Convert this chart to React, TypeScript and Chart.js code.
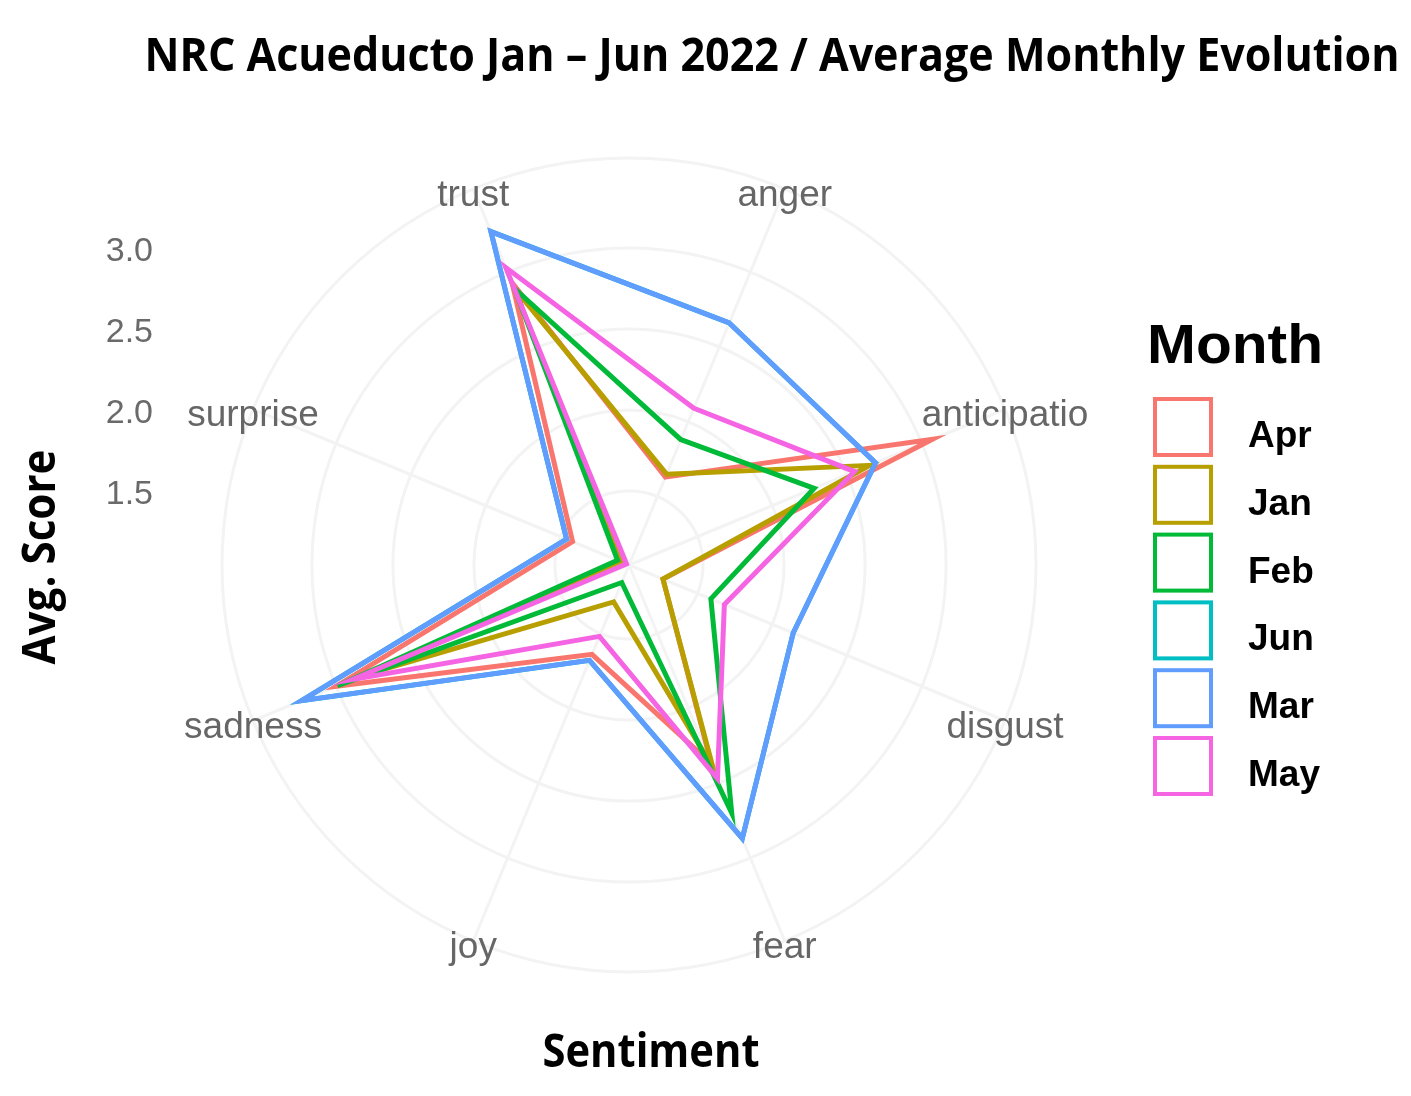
import React, { useEffect, useRef } from "react";
import { Chart, registerables } from "chart.js";

Chart.register(...registerables);

const sentiments = ["anger", "anticipatio", "disgust", "fear", "joy", "sadness", "surprise", "trust"];
const months = ["Apr", "Jan", "Feb", "Jun", "Mar", "May"];
const monthColors = ["#F8766D", "#B79F00", "#00BA38", "#00BFC4", "#619CFF", "#F564E3"];

const aprScores = [1.63, 3.07, 1.27, 2.37, 1.64, 3.0, 1.42, 2.93];
const janScores = [1.65, 2.65, 1.27, 2.4, 1.29, 2.83, 1.1, 2.89];
const febScores = [1.88, 2.28, 1.59, 2.7, 1.16, 2.99, 1.12, 2.89];
const junScores = [2.66, 2.69, 2.14, 2.87, 1.68, 3.23, 1.46, 3.27];
const marScores = [2.66, 2.69, 2.14, 2.87, 1.68, 3.23, 1.46, 3.27];
const mayScores = [2.09, 2.55, 1.68, 2.47, 1.52, 2.89, 1.06, 3.03];

const tickValues = [1.5, 2.0, 2.5, 3.0];
const tickLabels = ["1.5", "2.0", "2.5", "3.0"];
const radialMin = 1.043;
const radialMax = 3.555;

const titleText = "NRC Acueducto Jan \u2013 Jun 2022 / Average Monthly Evolution";
const xTitle = "Sentiment";
const yTitle = "Avg. Score";
const legendTitle = "Month";

const seriesScores = [aprScores, janScores, febScores, junScores, marScores, mayScores];

function fitText(
  ctx: CanvasRenderingContext2D,
  text: string,
  x: number,
  y: number,
  targetW: number,
  font: string,
  align: CanvasTextAlign,
  rotate = 0
) {
  ctx.save();
  ctx.font = font;
  const w = ctx.measureText(text).width;
  ctx.translate(x, y);
  if (rotate) ctx.rotate(rotate);
  ctx.scale(targetW / w, 1);
  ctx.textAlign = align;
  ctx.textBaseline = "alphabetic";
  ctx.fillText(text, 0, 0);
  ctx.restore();
}

const decorPlugin = {
  id: "decor",
  afterDraw(chart: any) {
    const ctx: CanvasRenderingContext2D = chart.ctx;
    const scale = chart.scales.r;
    ctx.save();
    // title
    ctx.fillStyle = "#000";
    fitText(ctx, titleText, 772, 71, 1255, "bold 46px 'Open Sans'", "center");
    // axis titles
    fitText(ctx, xTitle, 651, 1067, 217, "bold 46px 'Open Sans'", "center");
    fitText(ctx, yTitle, 55, 557, 215, "bold 46px 'Open Sans'", "center", -Math.PI / 2);

    // radial tick labels on the left
    ctx.fillStyle = "#6a6a6a";
    ctx.font = "34px 'Liberation Sans'";
    ctx.textAlign = "right";
    ctx.textBaseline = "middle";
    tickValues.forEach((v, i) => {
      const y = scale.yCenter - scale.getDistanceFromCenterForValue(v);
      ctx.fillText(tickLabels[i], 153, y + 4);
    });

    // point labels
    ctx.font = "37px 'Liberation Sans'";
    ctx.textAlign = "center";
    ctx.textBaseline = "middle";
    ctx.fillStyle = "#666666";
    sentiments.forEach((s, i) => {
      const p = scale.getPointPositionForValue(i, radialMax);
      ctx.fillText(s, p.x, p.y + 7);
    });

    // legend
    ctx.fillStyle = "#000";
    fitText(ctx, legendTitle, 1147, 363, 176, "bold 56px 'Liberation Sans'", "left");
    months.forEach((m, i) => {
      const top = 397 + 67.8 * i;
      ctx.fillStyle = "#ffffff";
      ctx.fillRect(1155, top + 2, 56, 56);
      ctx.strokeStyle = monthColors[i];
      ctx.lineWidth = 4;
      ctx.strokeRect(1155, top + 2, 56, 56);
      ctx.fillStyle = "#000";
      ctx.font = "bold 37px 'Liberation Sans'";
      ctx.textAlign = "left";
      ctx.textBaseline = "alphabetic";
      ctx.fillText(m, 1248, top + 50);
    });
    ctx.restore();
  },
};

export default function App() {
  const canvasRef = useRef<HTMLCanvasElement | null>(null);

  useEffect(() => {
    document.body.style.margin = "0";
    const canvas = canvasRef.current;
    if (!canvas) return;
    const drawOrder = [5, 4, 3, 2, 1, 0];
    const chart = new Chart(canvas, {
      type: "radar",
      data: {
        labels: sentiments,
        datasets: months.map((m, i) => ({
          label: m,
          data: seriesScores[i],
          borderColor: monthColors[i],
          backgroundColor: "rgba(0,0,0,0)",
          borderWidth: 5,
          pointRadius: 0,
          fill: false,
          tension: 0,
          order: drawOrder[i],
        })),
      },
      options: {
        responsive: false,
        animation: false,
        devicePixelRatio: 1,
        layout: { padding: { left: 222, right: 375, top: 158, bottom: 124 } },
        plugins: {
          legend: { display: false },
          title: { display: false },
          tooltip: { enabled: false },
        },
        scales: {
          r: {
            min: radialMin,
            max: radialMax,
            startAngle: 22.5,
            afterBuildTicks: (sc: any) => {
              sc.ticks = [radialMin, ...tickValues, radialMax].map((v) => ({ value: v }));
            },
            ticks: { display: false },
            pointLabels: { display: false },
            grid: { color: "#f3f3f3", lineWidth: 3, circular: true },
            angleLines: { color: "#f3f3f3", lineWidth: 3 },
          },
        },
      },
      plugins: [decorPlugin],
    });
    return () => chart.destroy();
  }, []);

  return (
    <div style={{ width: 1411, height: 1096, background: "#fff" }}>
      <canvas ref={canvasRef} width={1411} height={1096} style={{ display: "block" }} />
    </div>
  );
}
